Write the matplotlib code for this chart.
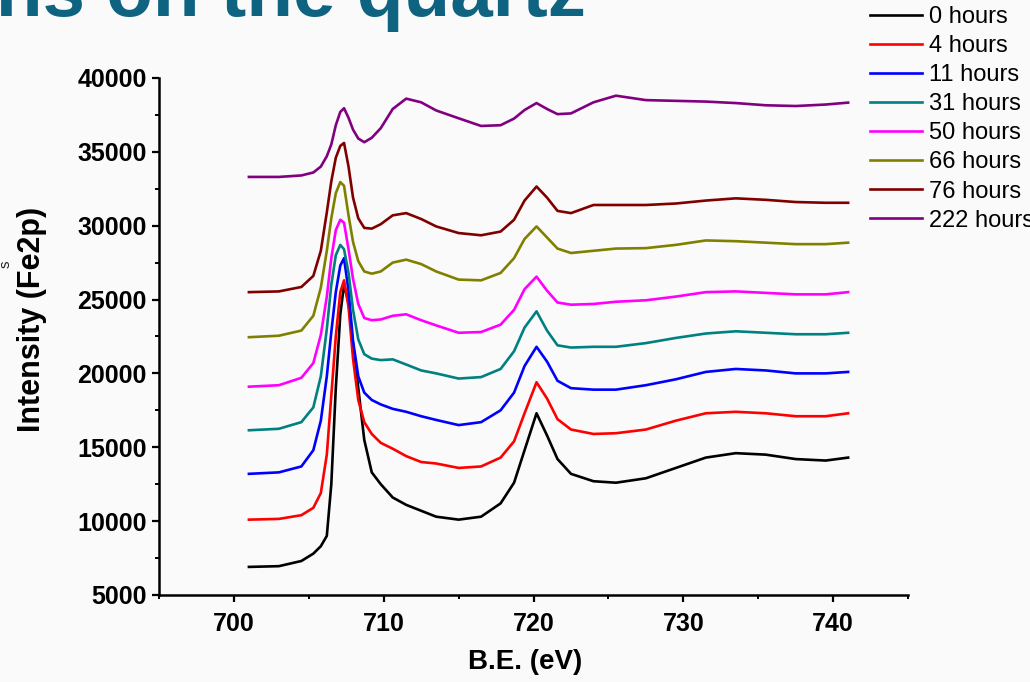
import matplotlib
matplotlib.use("Agg")
import matplotlib.pyplot as plt
from matplotlib.ticker import MultipleLocator

# binding energy grid (eV)
be = [701.0, 703.0, 704.5, 705.3, 705.8, 706.2, 706.5, 706.8, 707.1, 707.35,
      707.65, 707.95, 708.3, 708.7, 709.2, 709.8, 710.6, 711.5, 712.5, 713.5,
      715.0, 716.5, 717.8, 718.7, 719.4, 720.2, 720.9, 721.6, 722.5, 724.0,
      725.5, 727.5, 729.5, 731.5, 733.5, 735.5, 737.5, 739.5, 741.0]

# Fe2p intensity for each exposure time
int_0h = [6900, 6950, 7300, 7800, 8300, 9000, 12500, 19000, 24000, 26000,
          24800, 22000, 19000, 15500, 13300, 12500, 11600, 11100, 10700, 10300,
          10100, 10300, 11200, 12600, 14800, 17300, 15800, 14200, 13200, 12700,
          12600, 12900, 13600, 14300, 14600, 14500, 14200, 14100, 14300]
int_4h = [10100, 10150, 10400, 10900, 11900, 14500, 18500, 22500, 25500, 26300,
          24500, 21000, 18200, 16700, 15900, 15300, 14900, 14400, 14000, 13900,
          13600, 13700, 14300, 15400, 17300, 19400, 18300, 16900, 16200, 15900,
          15950, 16200, 16800, 17300, 17400, 17300, 17100, 17100, 17300]
int_11h = [13200, 13300, 13700, 14800, 16800, 19800, 22800, 25500, 27300, 27800,
           25600, 22200, 19800, 18700, 18200, 17900, 17600, 17400, 17100, 16850,
           16500, 16700, 17500, 18700, 20500, 21800, 20800, 19500, 19000, 18900,
           18900, 19200, 19600, 20100, 20300, 20200, 20000, 20000, 20100]
int_31h = [16150, 16250, 16700, 17700, 19800, 23000, 26000, 28000, 28700, 28400,
           26800, 24300, 22300, 21300, 21000, 20900, 20950, 20600, 20200, 20000,
           19650, 19750, 20300, 21500, 23100, 24200, 22900, 21900, 21750, 21800,
           21800, 22050, 22400, 22700, 22850, 22750, 22650, 22650, 22750]
int_50h = [19100, 19200, 19700, 20700, 22600, 25200, 27800, 29700, 30400, 30200,
           28400, 26400, 24700, 23750, 23600, 23650, 23900, 24000, 23600, 23250,
           22750, 22800, 23300, 24300, 25700, 26550, 25600, 24800, 24650, 24700,
           24850, 24950, 25200, 25500, 25550, 25450, 25350, 25350, 25500]
int_66h = [22450, 22550, 22900, 23900, 25800, 28300, 30500, 32200, 32950, 32700,
           30700, 28900, 27600, 26900, 26750, 26900, 27500, 27700, 27400, 26900,
           26350, 26300, 26800, 27800, 29100, 29950, 29200, 28450, 28150, 28300,
           28450, 28480, 28700, 29000, 28950, 28850, 28750, 28750, 28850]
int_76h = [25500, 25550, 25850, 26600, 28300, 30900, 33000, 34600, 35400, 35600,
           34000, 31900, 30500, 29850, 29800, 30100, 30700, 30850, 30450, 29950,
           29500, 29350, 29600, 30400, 31700, 32650, 31900, 31000, 30850, 31400,
           31400, 31400, 31500, 31700, 31850, 31750, 31600, 31550, 31550]
int_222h = [33300, 33300, 33400, 33600, 34000, 34700, 35500, 36800, 37700, 37950,
            37300, 36500, 35900, 35650, 35950, 36600, 37900, 38600, 38350, 37800,
            37270, 36750, 36800, 37250, 37830, 38300, 37900, 37550, 37600, 38350,
            38800, 38500, 38450, 38400, 38300, 38150, 38100, 38200, 38330]

labels = ["0 hours", "4 hours", "11 hours", "31 hours",
          "50 hours", "66 hours", "76 hours", "222 hours"]
series = [int_0h, int_4h, int_11h, int_31h, int_50h, int_66h, int_76h, int_222h]
colors = ["#000000", "#ff0000", "#0000ff", "#008080",
          "#ff00ff", "#808000", "#800000", "#800080"]

plt.rcParams["font.family"] = ["Liberation Sans", "DejaVu Sans"]

fig = plt.figure(figsize=(10.30, 6.82), dpi=100, facecolor="#fafafa")
ax = fig.add_axes([0.1544, 0.1276, 0.7272, 0.7581])
ax.set_facecolor("none")

for y, c, lab in zip(series, colors, labels):
    ax.plot(be, y, color=c, lw=1.9, label=lab)

ax.set_xlim(695, 745)
ax.set_ylim(5000, 40000)
ax.xaxis.set_major_locator(MultipleLocator(10))
ax.xaxis.set_minor_locator(MultipleLocator(5))
ax.yaxis.set_major_locator(MultipleLocator(5000))
ax.yaxis.set_minor_locator(MultipleLocator(2500))

for s in ["top", "right"]:
    ax.spines[s].set_visible(False)
for s in ["left", "bottom"]:
    ax.spines[s].set_linewidth(1.8)

ax.tick_params(which="major", direction="out", length=5, width=1.6, pad=4)
ax.tick_params(which="minor", direction="out", length=3, width=1.4)
for lab in ax.get_xticklabels() + ax.get_yticklabels():
    lab.set_fontsize(18)
    lab.set_fontweight("bold")
ax.tick_params(axis="x", pad=7)

ax.set_xlabel("B.E. (eV)", fontsize=20, fontweight="bold", va="center")
ax.xaxis.set_label_coords(0.4887, -0.1296)
ax.set_ylabel("Intensity (Fe2p)", fontsize=22, fontweight="bold", va="center")
ax.yaxis.set_label_coords(-0.169, 0.532)

fig.legend(loc="upper left", bbox_to_anchor=(870 / 1030, 1 - 6 / 682),
           frameon=False, fontsize=17, handlelength=2.2, handletextpad=0.3,
           labelspacing=0.3, borderpad=0, borderaxespad=0)

# slide title, cut off at the top of the screenshot
fig.text(-0.004, 1 - 16 / 682, "ns on the quartz", fontsize=55,
         fontweight="bold", color="#0e6381", va="baseline", ha="left")
# stray letter from the slide on the left edge
fig.text(6 / 1030, 1 - 264 / 682, "s", fontsize=11, rotation=90,
         color="#222222", va="center", ha="center")

fig.savefig("out.png", dpi=100, facecolor=fig.get_facecolor())
